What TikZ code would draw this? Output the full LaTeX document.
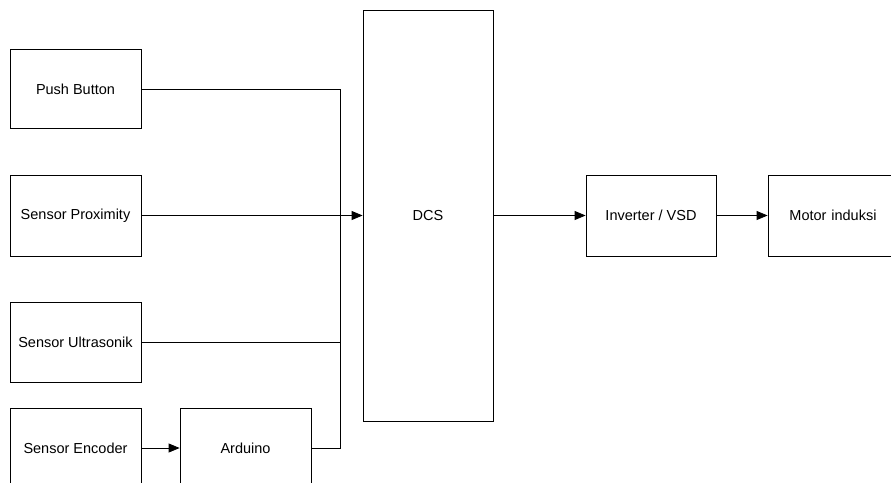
\documentclass[tikz,border=0pt]{standalone}
\usepackage{fontspec}
\setmainfont{Liberation Sans}
\usetikzlibrary{arrows.meta}

\tikzset{
  blok/.style={draw, line width=0.8pt, minimum width=131pt, minimum height=80pt,
    inner sep=0pt, font=\fontsize{14.5}{17}\selectfont},
  garis/.style={line width=0.8pt},
  panah/.style={line width=0.8pt, -{Triangle[length=11pt,width=9pt]}}
}

\begin{document}
\begin{tikzpicture}[x=1pt, y=-1pt]
        % frame of the picture
        \useasboundingbox (0,0) rectangle (891,482);
        \clip (0,0) rectangle (891,482);

        % Input blocks
        \node[blok, minimum height=79pt] (pb) at (75.5, 89) {Push Button};
        \node[blok, minimum height=81pt] (prox) at (75.5, 215.5) {Sensor Proximity};
        \node[blok] (us) at (75.5, 342) {Sensor Ultrasonik};
        \node[blok] (enc) at (75.5, 448) {Sensor Encoder};
        \node[blok] (ard) at (245.5, 448) {Arduino};

        % Control and output blocks
        \node[blok, minimum width=130pt, minimum height=411pt] (dcs) at (428, 215.5) {DCS};
        \node[blok, minimum width=130pt, minimum height=81pt] (inv) at (651, 215.5) {Inverter / VSD};
        \node[blok, minimum width=136pt, minimum height=81pt, text width=130pt, align=center] (mot) at (836, 215.5) {\hspace*{-6pt}Motor induksi};

        % Junction of the inputs
        \coordinate (bus) at (340, 215.5);

        % Connectors
        \draw[panah] (enc.east) -- (ard.west);
        \draw[garis] (pb.east) -| (bus);
        \draw[garis] (us.east) -| (bus);
        \draw[garis] (ard.east) -| (bus);
        \draw[panah] (prox.east) -- (dcs.west);
        \draw[panah] (dcs.east) -- (inv.west);
        \draw[panah] (inv.east) -- (mot.west);

\end{tikzpicture}
\end{document}
